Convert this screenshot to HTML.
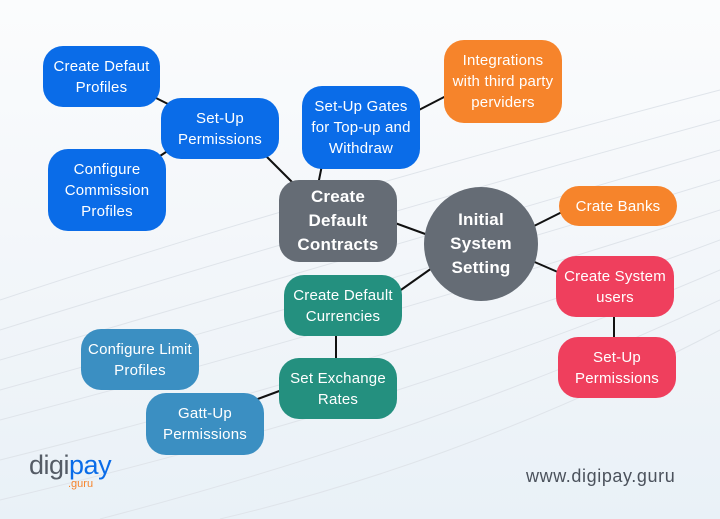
<!DOCTYPE html>
<html><head><style>
body{margin:0;width:720px;height:519px;overflow:hidden;background:linear-gradient(180deg,#fbfcfd 0%,#f1f5f9 60%,#e9f1f7 100%);font-family:"Liberation Sans",sans-serif;position:relative}
.n{position:absolute;display:flex;align-items:center;justify-content:center;text-align:center;color:#fff;font-size:15px;line-height:21px;letter-spacing:0.2px;border-radius:20px;box-sizing:border-box;white-space:nowrap}
.b{background:#0a6ce8}.o{background:#f6842b}.r{background:#ef3f5d}.t{background:#24907f}.s{background:#3b8fc2}.g{background:#656c75;font-weight:bold;font-size:17px;line-height:24px}
svg{position:absolute;left:0;top:0}
</style></head><body>
<svg width="720" height="519">
<g stroke="#dfe4ea" stroke-width="1" fill="none">
<path d="M0 300 Q300 200 720 90"/><path d="M0 330 Q320 230 720 120"/><path d="M0 360 Q340 260 720 150"/><path d="M0 390 Q360 290 720 180"/><path d="M0 420 Q380 320 720 210"/><path d="M0 460 Q400 360 720 240"/><path d="M0 500 Q420 400 720 270"/><path d="M100 519 Q440 430 720 300"/><path d="M220 519 Q470 460 720 330"/>
</g>
<g stroke="#111" stroke-width="2">
<line x1="150" y1="95" x2="172" y2="106"/><line x1="160" y1="156" x2="172" y2="148"/>
<line x1="265" y1="155" x2="295" y2="185"/><line x1="322" y1="165" x2="318" y2="185"/>
<line x1="415" y1="112" x2="448" y2="95"/><line x1="395" y1="223" x2="428" y2="235"/>
<line x1="530" y1="228" x2="562" y2="212"/><line x1="530" y1="260" x2="560" y2="273"/>
<line x1="614" y1="315" x2="614" y2="340"/><line x1="432" y1="268" x2="398" y2="292"/>
<line x1="336" y1="333" x2="336" y2="360"/><line x1="282" y1="390" x2="255" y2="400"/>
</g>
<circle cx="481" cy="244" r="57" fill="#656c75"/>
</svg>
<div class="n b" style="left:43px;top:46px;width:117px;height:61px">Create Defaut<br>Profiles</div>
<div class="n b" style="left:161px;top:98px;width:118px;height:61px">Set-Up<br>Permissions</div>
<div class="n b" style="left:48px;top:149px;width:118px;height:82px">Configure<br>Commission<br>Profiles</div>
<div class="n b" style="left:302px;top:86px;width:118px;height:83px">Set-Up Gates<br>for Top-up and<br>Withdraw</div>
<div class="n o" style="left:444px;top:40px;width:118px;height:83px">Integrations<br>with third party<br>perviders</div>
<div class="n g" style="left:279px;top:180px;width:118px;height:82px">Create<br>Default<br>Contracts</div>
<div class="n g" style="left:424px;top:187px;width:114px;height:114px;background:none">Initial<br>System<br>Setting</div>
<div class="n o" style="left:559px;top:186px;width:118px;height:40px">Crate Banks</div>
<div class="n r" style="left:556px;top:256px;width:118px;height:61px">Create System<br>users</div>
<div class="n r" style="left:558px;top:337px;width:118px;height:61px">Set-Up<br>Permissions</div>
<div class="n t" style="left:284px;top:275px;width:118px;height:61px">Create Default<br>Currencies</div>
<div class="n s" style="left:81px;top:329px;width:118px;height:61px">Configure Limit<br>Profiles</div>
<div class="n t" style="left:279px;top:358px;width:118px;height:61px">Set Exchange<br>Rates</div>
<div class="n s" style="left:146px;top:393px;width:118px;height:62px">Gatt-Up<br>Permissions</div>
<div style="position:absolute;left:29px;top:450px;font-size:27px;color:#555c66;letter-spacing:-0.5px">digi<span style="color:#0a6ce8">pay</span></div>
<div style="position:absolute;left:68px;top:478px;font-size:11px;color:#f6842b">.guru</div>
<div style="position:absolute;left:526px;top:466px;font-size:18px;letter-spacing:0.6px;color:#4b525c">www.digipay.guru</div>
</body></html>
